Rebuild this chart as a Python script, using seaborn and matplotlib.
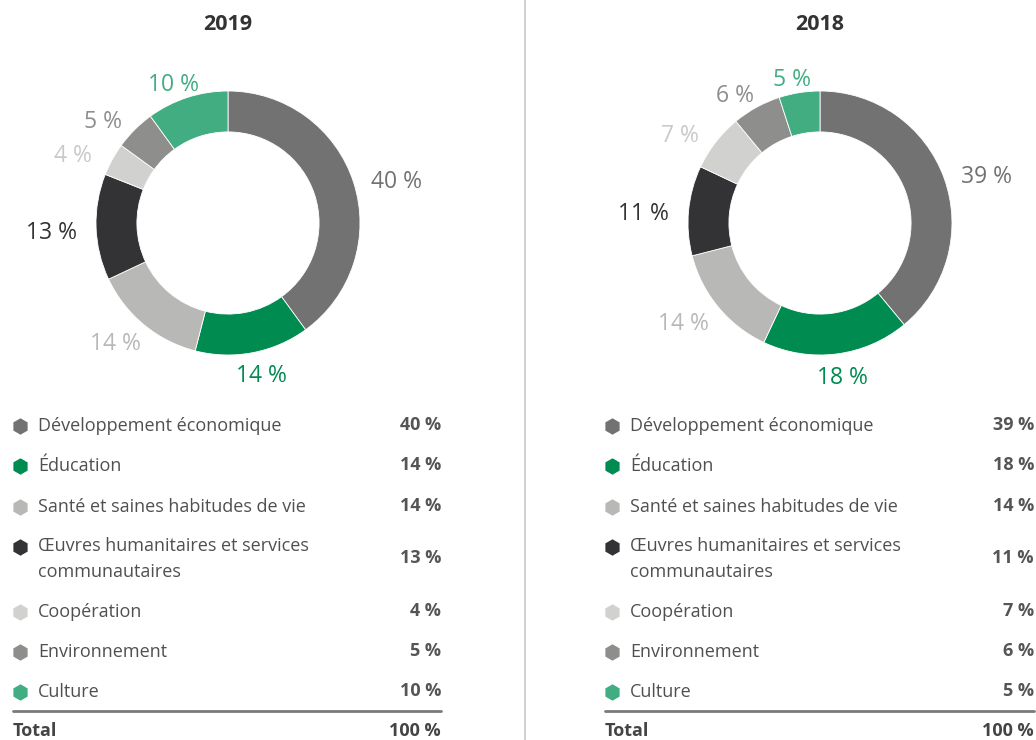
import numpy as np
import matplotlib
matplotlib.use("Agg")
import matplotlib.pyplot as plt
import seaborn as sns

# données
categories = ["Développement économique", "Éducation", "Santé et saines habitudes de vie",
              "Œuvres humanitaires et services\ncommunautaires", "Coopération",
              "Environnement", "Culture"]
values_2019 = [40, 14, 14, 13, 4, 5, 10]
values_2018 = [39, 18, 14, 11, 7, 6, 5]
years = ["2019", "2018"]
total_label = "100 %"

colors = ["#717271", "#008b50", "#b8b8b7", "#333335", "#d1d1d0", "#8e8e8d", "#43ad82"]
label_colors = ["#717271", "#008b50", "#b8b8b7", "#333335", "#c9c9c8", "#8e8e8d", "#43ad82"]

sns.set_theme(style="white")
plt.rcParams["font.family"] = ["Open Sans", "DejaVu Sans"]
pal = sns.color_palette(colors)

W, H = 1036, 740
fig = plt.figure(figsize=(W / 100, H / 100), dpi=100)

# axes plein cadre en pixels pour le tableau
bg = fig.add_axes([0, 0, 1, 1])
bg.set_xlim(0, W)
bg.set_ylim(H, 0)
bg.axis("off")

R = 132
row_y = [426, 466, 507, 547, 612, 652, 692]
panels = [(228, 13, 441, values_2019), (820, 605, 1034, values_2018)]
txt_col = "#505050"

for (cx, x0, x1, vals), year in zip(panels, years):
    cy = 223
    ax = fig.add_axes([(cx - R) / W, (H - cy - R) / H, 2 * R / W, 2 * R / H])
    wedges, _ = ax.pie(vals, colors=pal, startangle=90, counterclock=False,
                       wedgeprops=dict(width=0.31, linewidth=0.6, edgecolor="white"))
    ax.set_xlim(-1, 1)
    ax.set_ylim(-1, 1)
    for w, v, c in zip(wedges, vals, label_colors):
        ang = np.deg2rad((w.theta1 + w.theta2) / 2)
        ax.text(1.34 * np.cos(ang), 1.14 * np.sin(ang) - 0.04, f"{v} %", color=c,
                fontsize=16.5, ha="center", va="center", clip_on=False)

    bg.text(cx, 24, year, ha="center", va="center", fontsize=15.5,
            fontweight="bold", color="#333333")

    # tableau
    for cat, v, c, y in zip(categories, vals, pal, row_y):
        bg.scatter([x0 + 7], [y], marker="h", s=140, color=c, linewidths=0)
        dy = 12 if "\n" in cat else 0
        bg.text(x0 + 25, y + dy, cat, ha="left", va="center", fontsize=13,
                color=txt_col, linespacing=1.55)
        bg.text(x1, y + dy - 1, f"{v} %", ha="right", va="center", fontsize=13,
                fontweight="bold", color="#555555")
    bg.plot([x0, x1], [711, 711], color="#7a7a7a", lw=2)
    bg.text(x0, 731, "Total", ha="left", va="center", fontsize=13,
            fontweight="bold", color="#444444")
    bg.text(x1, 731, total_label, ha="right", va="center", fontsize=13,
            fontweight="bold", color="#444444")

bg.plot([525, 525], [0, 740], color="#c8c8c8", lw=1.2)

fig.savefig("out.png", dpi=100)
